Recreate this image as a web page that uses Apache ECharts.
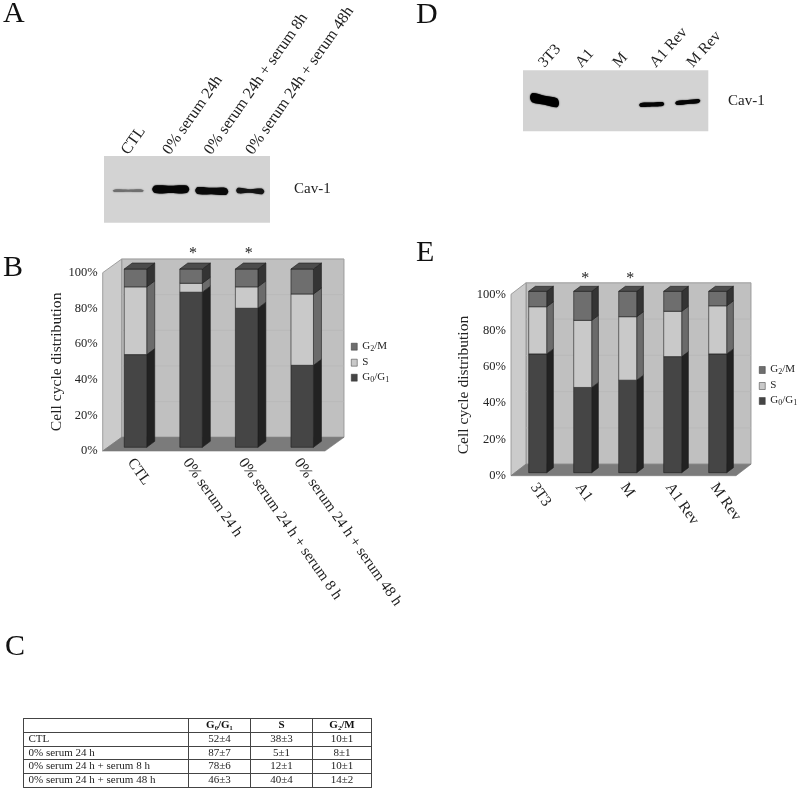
<!DOCTYPE html>
<html><head><meta charset="utf-8">
<style>html,body{margin:0;padding:0;background:#fff}#c{width:800px;height:793px}</style>
<script src="https://cdn.jsdelivr.net/npm/echarts@6/dist/echarts.min.js"></script>
</head><body><div id="c"></div>
<script>
// ---------- data ----------
const blotACats = ['CTL','0% serum 24h','0% serum 24h + serum 8h','0% serum 24h + serum 48h'];
const blotALevels = [0.2,1,0.9,0.6];
const blotAMigration = [48,50,47.5,47.5];
const blotDCats = ['3T3','A1','M','A1 Rev','M Rev'];
const blotDLevels = [1,0,0,0.5,0.5];
const blotDMigration = [51,0,0,44,48];

const cycleBCats = ['CTL','0% serum 24 h','0% serum 24 h + serum 8 h','0% serum 24 h + serum 48 h'];
const cycleBG0 = [52,87,78,46];
const cycleBS = [38,5,12,40];
const cycleBG2 = [10,8,10,14];
const cycleBSig = [0,1,1,0];

const cycleECats = ['3T3','A1','M','A1 Rev','M Rev'];
const cycleEG0 = [65.5,47,51,64,65.5];
const cycleES = [26,37,35,25,26.5];
const cycleEG2 = [8.5,16,14,11,8];
const cycleESig = [0,1,1,0,0];

const yTicks = [20,40,60,80,100];
const tableCols = ['G₀/G₁','S','G₂/M'];
const tableRows = ['CTL','0% serum 24 h','0% serum 24 h + serum 8 h','0% serum 24 h + serum 48 h'];
const tableG0 = ['52±4','87±7','78±6','46±3'];
const tableS = ['38±3','5±1','12±1','40±4'];
const tableG2 = ['10±1','8±1','10±1','14±2'];

// ---------- style ----------
const FONT = '"Liberation Serif","Times New Roman",serif';
const PHASES = {
  G0:{name:'G0/G1',front:'#454545',side:'#222222'},
  S:{name:'S',front:'#c9c9c9',side:'#6b6b6b'},
  G2:{name:'G2/M',front:'#6e6e6e',side:'#343434'}
};
const TOPFACE = '#4c4c4c';
const bandShapesA = [
  {dx:3.5,len:31,slant:0,color:'#6f6f6f',th:2.6,waist:.8},
  {dx:4.5,len:37,slant:0,color:'#060606',th:7.5,waist:.97},
  {dx:4,len:33,slant:1,color:'#0a0a0a',th:7,waist:.92},
  {dx:1,len:28,slant:1,color:'#141414',th:5.5,waist:.65}
];
const bandShapesD = [
  {dx:3,len:29,slant:6,color:'#000',th:9,waist:1},
  null,null,
  {dx:-1,len:25,slant:-1,color:'#050505',th:4,waist:1},
  {dx:-2,len:25,slant:-2.5,color:'#050505',th:4,waist:1}
];

function legendFmt(n){
  if(n==='G2/M') return '{n|G}{s|2}{n|/M}';
  if(n==='G0/G1') return '{n|G}{s|0}{n|/G}{s|1}';
  return '{n|'+n+'}';
}
const legendRich = {
  n:{fontFamily:FONT,fontSize:11,color:'#222',lineHeight:12,verticalAlign:'top'},
  s:{fontFamily:FONT,fontSize:8,color:'#222',lineHeight:12,verticalAlign:'bottom',padding:[3,0,0,0]}
};

function wallSeries(gi,g,ticks){
  return {type:'custom',xAxisIndex:gi,yAxisIndex:gi,silent:true,clip:false,z:1,data:[[0,0]],
    renderItem(params,api){
      const c=params.coordSys,x0=c.x,x1=c.x+c.width,y0=c.y+c.height,y1=c.y,dx=g.dx,dy=g.dy;
      const edge={stroke:'#8d8d8d',lineWidth:.8};
      const kids=[
        {type:'polygon',shape:{points:[[x0+dx,y1+dy],[x1+dx,y1+dy],[x1+dx,y0+dy],[x0+dx,y0+dy]]},style:{fill:'#c0c0c0',...edge}},
        {type:'polygon',shape:{points:[[x0,y1],[x0+dx,y1+dy],[x0+dx,y0+dy],[x0,y0]]},style:{fill:'#cbcbcb',...edge}},
        {type:'polygon',shape:{points:[[x0,y0],[x0+dx,y0+dy],[x1+dx,y0+dy],[x1,y0]]},style:{fill:'#7b7b7b',stroke:'#777',lineWidth:.6}}
      ];
      ticks.forEach(t=>{
        const y=api.coord([0,t])[1]+dy;
        kids.push({type:'line',shape:{x1:x0+dx,y1:y,x2:x1+dx,y2:y},style:{stroke:'#b6b6b6',lineWidth:.7}});
      });
      return {type:'group',children:kids};
    }};
}
function barSeries(gi,key,base,vals,g,isTop){
  const ph=PHASES[key];
  return {type:'custom',name:ph.name,xAxisIndex:gi,yAxisIndex:gi,clip:false,z:3,silent:true,
    itemStyle:{color:ph.front,borderColor:'#333',borderWidth:.5},
    encode:{x:0,y:[1,2]},
    data:vals.map((v,i)=>[i,base[i],base[i]+v]),
    renderItem(params,api){
      const a=api.coord([api.value(0),api.value(1)]),b=api.coord([api.value(0),api.value(2)]);
      const l=a[0]+g.off-g.w/2,r=l+g.w,bot=a[1]+g.lift,top=b[1]+g.lift,dx=g.bdx,dy=g.bdy;
      const st={stroke:'#1c1c1c',lineWidth:.6};
      const kids=[
        {type:'polygon',shape:{points:[[r,bot],[r+dx,bot+dy],[r+dx,top+dy],[r,top]]},style:{fill:ph.side,...st}},
        {type:'polygon',shape:{points:[[l,bot],[r,bot],[r,top],[l,top]]},style:{fill:ph.front,...st}}
      ];
      if(isTop) kids.push({type:'polygon',shape:{points:[[l,top],[r,top],[r+dx,top+dy],[l+dx,top+dy]]},style:{fill:TOPFACE,...st}});
      return {type:'group',children:kids};
    }};
}
function starSeries(gi,sig,g){
  return {type:'custom',xAxisIndex:gi,yAxisIndex:gi,clip:false,z:4,silent:true,
    data:sig.map((s,i)=>[i,s]),
    renderItem(params,api){
      if(!api.value(1)) return null;
      const p=api.coord([api.value(0),100]);
      return {type:'text',x:p[0]+g.off+g.starDx,y:p[1]+g.starDy,
        style:{text:'*',fontFamily:FONT,fontSize:16,fill:'#222',align:'center',verticalAlign:'middle'}};
    }};
}
function blotSeries(gi,levels,migration,shapes){
  return {type:'custom',xAxisIndex:gi,yAxisIndex:gi,clip:false,z:3,silent:true,
    data:levels.map((v,i)=>[i,migration[i],v]),
    renderItem(params,api){
      const i=api.value(0); if(!api.value(2)) return null;
      const sh=shapes[i],p=api.coord([i,api.value(1)]);
      const cx=p[0]+sh.dx,cy=p[1],h=sh.len/2,t=sh.th/2,w=t*sh.waist,sl=sh.slant/2;
      const pts=[[cx-h,cy-sl],[cx-h*.85,cy-sl*.85-t],[cx,cy-w],[cx+h*.85,cy+sl*.85-t],[cx+h,cy+sl],
                 [cx+h*.85,cy+sl*.85+t],[cx,cy+w],[cx-h*.85,cy-sl*.85+t]];
      return {type:'polygon',shape:{points:pts,smooth:.3},
        style:{fill:sh.color,shadowBlur:1.5,shadowColor:sh.color}};
    }};
}
function blotAxes(gi,cats,rotate,fontSize,margin){
  return {
    x:{type:'category',gridIndex:gi,position:'top',data:cats,axisLine:{show:false},axisTick:{show:false},
       axisLabel:{interval:0,rotate,margin,fontFamily:FONT,fontSize,color:'#222'}},
    y:{type:'value',gridIndex:gi,min:0,max:100,show:false}
  };
}
function cycleAxes(gi,cats,nameGap){
  return {
    x:{type:'category',gridIndex:gi,data:cats,axisLine:{show:false},axisTick:{show:false},
       axisLabel:{interval:0,rotate:-55,margin:9,fontFamily:FONT,fontSize:15.3,color:'#222'}},
    y:{type:'value',gridIndex:gi,min:0,max:100,interval:20,axisLine:{show:false},axisTick:{show:false},
       splitLine:{show:false},name:'Cell cycle distribution',nameLocation:'middle',nameRotate:90,nameGap,
       nameTextStyle:{fontFamily:FONT,fontSize:15.6,color:'#222'},
       axisLabel:{formatter:'{value}%',margin:5,fontFamily:FONT,fontSize:12.5,color:'#222'}}
  };
}
function stackSeries(gi,g0,s,g2,sig,g){
  const b1=g0.map(()=>0),b2=g0,b3=g0.map((v,i)=>v+s[i]);
  return [wallSeries(gi,g,yTicks),barSeries(gi,'G0',b1,g0,g,false),barSeries(gi,'S',b2,s,g,false),
          barSeries(gi,'G2',b3,g2,g,true),starSeries(gi,sig,g)];
}
function letter(t,left,top){
  return {text:t,left,top,padding:0,textStyle:{fontFamily:FONT,fontSize:30,fontWeight:'normal',color:'#111'}};
}
function side(t,left,top){
  return {text:t,left,top,padding:0,textStyle:{fontFamily:FONT,fontSize:15,fontWeight:'normal',color:'#222'}};
}
const geomB={dx:19,dy:-13.7,off:5,lift:-3.7,w:22.5,bdx:8,bdy:-6,starDx:2,starDy:-19};
const geomE={dx:15,dy:-11.5,off:4.2,lift:-3,w:18,bdx:6.7,bdy:-5,starDx:2.5,starDy:-16};
const aA=blotAxes(0,blotACats,55,16,3),aB=cycleAxes(1,cycleBCats,34),aD=blotAxes(2,blotDCats,48,15.5,5),aE=cycleAxes(3,cycleECats,39);

const legendBase={orient:'vertical',padding:0,icon:'rect',itemWidth:6,itemHeight:7,itemGap:4,
  itemStyle:{borderColor:'#333',borderWidth:.5},selectedMode:false,data:['G2/M','S','G0/G1'],
  formatter:legendFmt,textStyle:{rich:legendRich}};
const cellLabel={show:true,fontFamily:FONT,fontSize:11,color:'#222',overflow:'none',lineOverflow:'none',lineHeight:12,padding:0};
const cellBorder={borderColor:'#444',borderWidth:1};
const cellDivider={color:'#444',width:1};

const option={
  animation:false,backgroundColor:'#fff',
  title:[letter('A',3,-1),letter('B',3,253),letter('C',5,632),letter('D',416,0),letter('E',416,238),
         side('Cav-1',294,182),side('Cav-1',728,94)],
  grid:[
    {left:104,top:156,width:166,height:66.7,show:true,backgroundColor:'#d3d3d3',borderWidth:0,outerBoundsMode:'none'},
    {left:102.7,top:272.7,width:222.3,height:178.3,outerBoundsMode:'none'},
    {left:523,top:70.3,width:185.3,height:61,show:true,backgroundColor:'#d3d3d3',borderWidth:0,outerBoundsMode:'none'},
    {left:511,top:294.3,width:225,height:181.4,outerBoundsMode:'none'}
  ],
  xAxis:[aA.x,aB.x,aD.x,aE.x],
  yAxis:[aA.y,aB.y,aD.y,aE.y],
  legend:[
    {...legendBase,left:351,top:340.7},
    {...legendBase,left:759,top:364}
  ],
  matrix:{
    left:23,top:718,width:348,height:69,
    backgroundStyle:{borderColor:'#444',borderWidth:1},
    x:{levelSize:14,
       data:tableCols.map((c,i)=>({value:c,size:[62,62,59][i]})),
       label:{...cellLabel,fontWeight:'bold',color:'#111'},
       itemStyle:cellBorder,dividerLineStyle:cellDivider},
    y:{levelSize:165,
       data:tableRows,
       label:{...cellLabel,position:'insideLeft',distance:5,align:'left'},
       itemStyle:cellBorder,dividerLineStyle:cellDivider},
    corner:{itemStyle:cellBorder},
    body:{data:tableRows.flatMap((r,j)=>[tableG0[j],tableS[j],tableG2[j]].map((v,i)=>({coord:[i,j],value:v}))),
       label:cellLabel,
       itemStyle:cellBorder}
  },
  series:[
    blotSeries(0,blotALevels,blotAMigration,bandShapesA),
    ...stackSeries(1,cycleBG0,cycleBS,cycleBG2,cycleBSig,geomB),
    blotSeries(2,blotDLevels,blotDMigration,bandShapesD),
    ...stackSeries(3,cycleEG0,cycleES,cycleEG2,cycleESig,geomE)
  ]
};
const chart=echarts.init(document.getElementById('c'),null,{renderer:'canvas'});
chart.setOption(option);
</script></body></html>
